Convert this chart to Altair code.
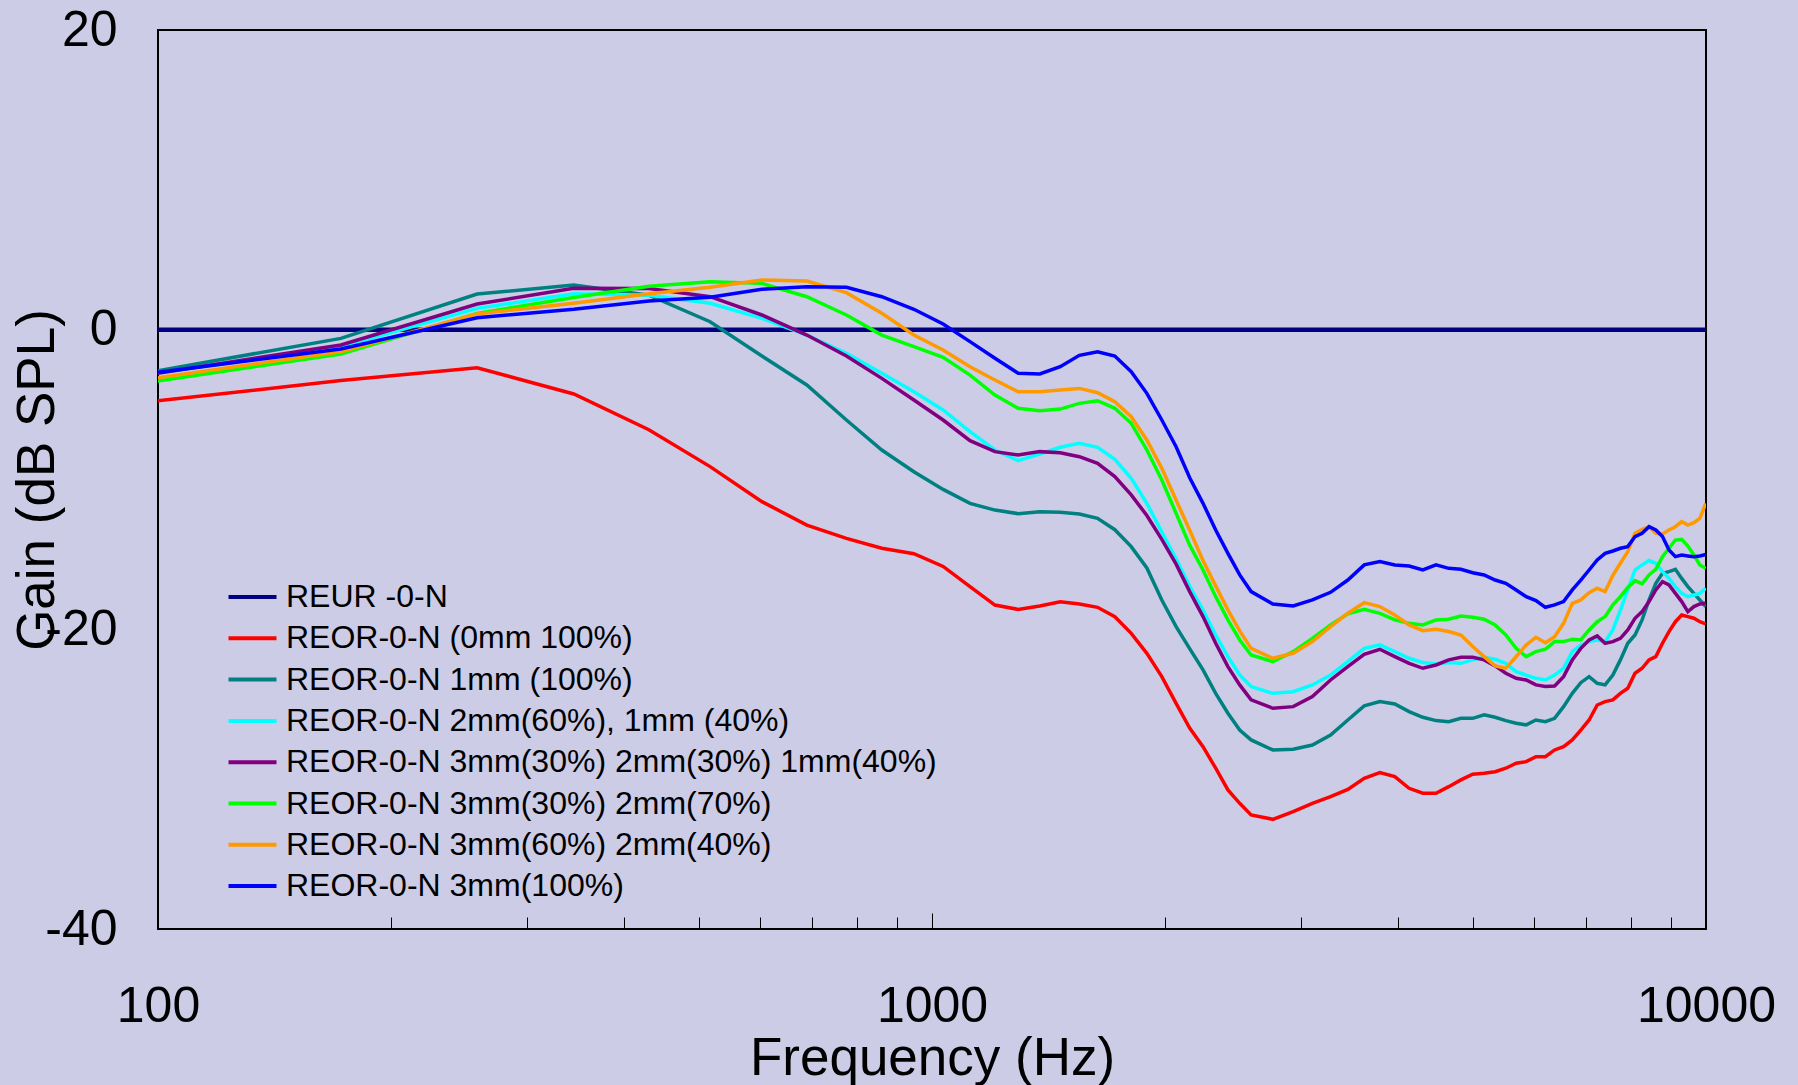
import altair as alt
import pandas as pd

FONT = "Liberation Sans"

# FFT bin frequencies (Hz) at which the curves are sampled
FREQ_HZ = [86.1, 172.3, 258.4, 344.5, 430.7, 516.8, 602.9, 689.1, 775.2, 861.3,
           947.5, 1033.6, 1119.7, 1205.9, 1292.0, 1378.1, 1464.3, 1550.4, 1636.5, 1722.7,
           1808.8, 1894.9, 1981.1, 2067.2, 2153.3, 2239.5, 2325.6, 2411.7, 2497.9, 2584.0,
           2756.3, 2928.5, 3100.8, 3273.0, 3445.3, 3617.6, 3789.8, 3962.1, 4134.4, 4306.6,
           4478.9, 4651.2, 4823.4, 4995.7, 5168.0, 5340.2, 5512.5, 5684.8, 5857.0, 6029.3,
           6201.6, 6373.8, 6546.1, 6718.4, 6890.6, 7062.9, 7235.2, 7407.4, 7579.7, 7752.0,
           7924.2, 8096.5, 8268.8, 8441.0, 8613.3, 8785.5, 8957.8, 9130.1, 9302.3, 9474.6,
           9646.9, 9819.1, 9991.4]

SERIES = ["REUR -0-N",
          "REOR-0-N (0mm 100%)",
          "REOR-0-N 1mm (100%)",
          "REOR-0-N 2mm(60%), 1mm (40%)",
          "REOR-0-N 3mm(30%) 2mm(30%) 1mm(40%)",
          "REOR-0-N 3mm(30%) 2mm(70%)",
          "REOR-0-N 3mm(60%) 2mm(40%)",
          "REOR-0-N 3mm(100%)"]
COLORS = ["#000080", "#FF0000", "#008080", "#00FFFF", "#800080", "#00FF00", "#FF9900", "#0000FF"]

REUR_FREQ = [86.1, 10077.5]
REUR_GAIN = [0.0, 0.0]

GAIN_0MM = [-5.11, -3.40, -2.54, -4.29, -6.68, -9.14, -11.48, -13.04, -13.93, -14.59,
            -14.95, -15.8, -17.15, -18.38, -18.67, -18.44, -18.16, -18.31, -18.53, -19.16,
            -20.27, -21.6, -23.16, -24.94, -26.6, -27.83, -29.27, -30.72, -31.61, -32.39,
            -32.68, -32.17, -31.61, -31.17, -30.68, -29.94, -29.56, -29.83, -30.61, -30.94,
            -30.94, -30.5, -30.05, -29.67, -29.61, -29.5, -29.27, -28.94, -28.83, -28.5,
            -28.5, -28.05, -27.83, -27.38, -26.72, -26.05, -25.05, -24.82, -24.71, -24.27,
            -23.93, -22.93, -22.6, -22.04, -21.82, -20.93, -20.15, -19.49, -19.04, -19.15,
            -19.26, -19.49, -19.64]

GAIN_1MM = [-3.33, -0.58, 2.38, 2.98, 2.3, 0.53, -1.76, -3.69, -6.03, -8.03,
            -9.48, -10.66, -11.59, -12.04, -12.28, -12.15, -12.18, -12.30, -12.59, -13.35,
            -14.48, -15.9, -18.04, -19.82, -21.3, -22.71, -24.27, -25.6, -26.72, -27.38,
            -28.05, -28.0, -27.72, -27.05, -26.05, -25.11, -24.82, -24.98, -25.49, -25.87,
            -26.09, -26.16, -25.94, -25.94, -25.71, -25.87, -26.09, -26.27, -26.38, -26.05,
            -26.16, -25.94, -25.16, -24.27, -23.56, -23.16, -23.6, -23.71, -23.05, -22.04,
            -20.93, -20.38, -19.37, -18.04, -16.93, -16.26, -16.15, -15.99, -16.6, -17.15,
            -17.6, -18.04, -18.48]

GAIN_2MM60 = [-3.38, -1.14, 1.42, 2.4, 2.3, 1.76, 0.76, -0.36, -1.58, -2.91,
              -4.14, -5.36, -6.81, -8.03, -8.74, -8.30, -7.85, -7.59, -7.85, -8.65,
              -9.92, -11.59, -13.5, -15.3, -17.15, -18.71, -20.38, -21.82, -23.05, -23.82,
              -24.27, -24.16, -23.71, -23.05, -22.16, -21.27, -21.04, -21.49, -21.93, -22.22,
              -22.31, -22.22, -22.27, -22.04, -21.87, -22.0, -22.27, -22.82, -23.05, -23.27,
              -23.38, -23.05, -22.6, -21.49, -21.04, -20.82, -20.71, -20.82, -20.04, -18.71,
              -17.37, -16.04, -15.7, -15.41, -15.59, -16.15, -16.6, -17.15, -17.6, -17.82,
              -17.71, -17.6, -17.26]

GAIN_3MM30_2MM30 = [-3.42, -1.02, 1.71, 2.76, 2.75, 2.20, 0.98, -0.36, -1.76, -3.25,
                    -4.69, -6.03, -7.41, -8.14, -8.36, -8.14, -8.21, -8.48, -8.92, -9.81,
                    -11.03, -12.4, -14.0, -15.65, -17.5, -19.15, -20.93, -22.49, -23.71, -24.71,
                    -25.27, -25.16, -24.49, -23.38, -22.49, -21.67, -21.33, -21.82, -22.27, -22.6,
                    -22.38, -22.04, -21.87, -21.87, -22.04, -22.44, -22.93, -23.27, -23.38, -23.71,
                    -23.82, -23.78, -23.16, -22.04, -21.27, -20.71, -20.44, -20.93, -20.82, -20.6,
                    -20.04, -19.26, -18.82, -18.15, -17.37, -16.82, -17.04, -17.6, -18.15, -18.82,
                    -18.48, -18.31, -18.26]

GAIN_3MM30_2MM70 = [-3.93, -1.62, 1.09, 2.14, 2.90, 3.20, 3.09, 2.20, 0.98, -0.36,
                    -1.13, -1.85, -3.03, -4.36, -5.25, -5.41, -5.30, -4.92, -4.74, -5.25,
                    -6.25, -8.03, -10.03, -12.26, -14.4, -16.04, -17.82, -19.37, -20.71, -21.71,
                    -22.16, -21.49, -20.6, -19.71, -18.97, -18.66, -18.93, -19.37, -19.6, -19.71,
                    -19.37, -19.33, -19.11, -19.2, -19.33, -19.71, -20.38, -21.27, -21.82, -21.49,
                    -21.33, -20.82, -20.82, -20.66, -20.71, -20.04, -19.49, -19.15, -18.37, -17.82,
                    -17.2, -16.75, -16.97, -16.37, -15.99, -15.15, -14.59, -14.04, -13.99, -14.44,
                    -15.04, -15.7, -15.93]

GAIN_3MM60_2MM40 = [-3.68, -1.47, 1.05, 1.76, 2.40, 2.83, 3.31, 3.25, 2.47, 1.09,
                    -0.36, -1.36, -2.47, -3.36, -4.14, -4.14, -4.03, -3.92, -4.21, -4.81,
                    -5.81, -7.36, -9.25, -11.37, -13.4, -15.4, -17.1, -18.7, -20.1, -21.27,
                    -21.93, -21.6, -20.82, -19.82, -18.93, -18.22, -18.48, -19.04, -19.71, -20.09,
                    -20.0, -20.15, -20.38, -21.15, -21.82, -22.44, -22.6, -21.82, -21.04, -20.53,
                    -20.89, -20.49, -19.6, -18.26, -18.04, -17.55, -17.26, -17.48, -16.4, -15.59,
                    -14.81, -13.59, -13.32, -13.15, -13.59, -13.64, -13.37, -13.15, -12.81, -13.04,
                    -12.88, -12.6, -11.6]

GAIN_3MM100 = [-3.28, -1.29, 0.80, 1.36, 1.92, 2.16, 2.69, 2.87, 2.83, 2.20,
               1.36, 0.38, -0.80, -1.91, -2.91, -2.96, -2.47, -1.71, -1.47, -1.76,
               -2.80, -4.25, -6.03, -7.81, -9.9, -11.59, -13.37, -14.93, -16.37, -17.48,
               -18.31, -18.44, -18.04, -17.53, -16.71, -15.70, -15.48, -15.70, -15.77, -16.04,
               -15.70, -15.93, -15.99, -16.22, -16.37, -16.71, -16.93, -17.37, -17.82, -18.08,
               -18.53, -18.37, -18.15, -17.37, -16.71, -16.04, -15.37, -14.93, -14.77, -14.59,
               -14.48, -13.81, -13.59, -13.15, -13.37, -13.81, -14.70, -15.15, -15.04, -15.10,
               -15.15, -15.10, -15.0]

X_TICK_FREQS = [200, 300, 400, 500, 600, 700, 800, 900, 1000,
                2000, 3000, 4000, 5000, 6000, 7000, 8000, 9000]
X_LABELS = [100, 1000, 10000]
Y_TICKS = [-40, -20, 0, 20]

rows = [{"series": SERIES[0], "freq": f, "gain": g} for f, g in zip(REUR_FREQ, REUR_GAIN)]
for name, vals in zip(SERIES[1:], [GAIN_0MM, GAIN_1MM, GAIN_2MM60, GAIN_3MM30_2MM30,
                                    GAIN_3MM30_2MM70, GAIN_3MM60_2MM40, GAIN_3MM100]):
    assert len(vals) == len(FREQ_HZ)
    rows += [{"series": name, "freq": f, "gain": g} for f, g in zip(FREQ_HZ, vals)]
df = pd.DataFrame(rows)

W, H = 1548, 899

x_scale = alt.Scale(type="log", domain=[100, 10000], nice=False)

label_axis = alt.Axis(
    orient="bottom", values=X_LABELS, labelExpr="'' + datum.value",
    ticks=False, domain=False, grid=False,
    labelFont=FONT, labelFontSize=50, labelColor="black",
    labelBaseline="alphabetic", labelPadding=92,
    labelFlush=False, labelOverlap=False, labelBound=False,
    title="Frequency (Hz)", titleFont=FONT, titleFontSize=53, titleFontWeight="normal",
    titleColor="black", titleBaseline="alphabetic", titleAlign="center",
    titleX=W / 2, titleY=145)

tick_axis = alt.Axis(
    orient="top", offset=-H, values=X_TICK_FREQS, labels=False, domain=False, grid=False,
    ticks=True, tickColor="black", tickWidth=1,
    tickSize={"condition": {"test": "datum.value == 1000", "value": 16}, "value": 12},
    title=None)

y_enc = alt.Y("gain:Q",
              scale=alt.Scale(domain=[-40, 20], nice=False, zero=False),
              axis=alt.Axis(values=Y_TICKS, labelExpr="'' + datum.value",
                            ticks=False, domain=False, grid=False,
                            labelFont=FONT, labelFontSize=50, labelColor="black",
                            labelPadding=41, labelOverlap=False, labelFlush=False, labelBound=False,
                            title="Gain (dB SPL)", titleFont=FONT, titleFontSize=53,
                            titleFontWeight="normal", titleColor="black",
                            titleAngle=270, titleBaseline="alphabetic", titleAlign="center",
                            titleX=-105, titleY=H / 2))

color_enc = alt.Color(
    "series:N",
    scale=alt.Scale(domain=SERIES, range=COLORS),
    legend=alt.Legend(title=None, orient="none", legendX=77.5, legendY=550,
                      direction="vertical", padding=0,
                      symbolType="M-1.6,0H1.6", symbolSize=900, symbolStrokeWidth=4,
                      labelFont=FONT, labelFontSize=32, labelColor="black",
                      labelLimit=1000, labelOffset=16.5, rowPadding=8.3))

layers = []
for i, name in enumerate(SERIES):
    if i == 0:
        ax = label_axis
    elif i == 1:
        ax = tick_axis
    else:
        ax = None
    layers.append(
        alt.Chart(df)
        .transform_filter(alt.datum.series == name)
        .mark_line(clip=True, strokeWidth=4.5 if i == 0 else 3.5)
        .encode(x=alt.X("freq:Q", scale=x_scale, axis=ax), y=y_enc, color=color_enc)
    )

chart = (
    alt.layer(*layers)
    .resolve_axis(x="independent")
    .properties(width=W, height=H,
                padding={"left": 158, "top": 30, "right": 92, "bottom": 156},
                autosize=alt.AutoSizeParams(type="none"))
    .configure(background="#CCCCE6")
    .configure_view(fill="#CCCCE6", stroke="black", strokeWidth=2)
)

chart.save("out.html", embed_options={"renderer": "svg", "actions": False})
